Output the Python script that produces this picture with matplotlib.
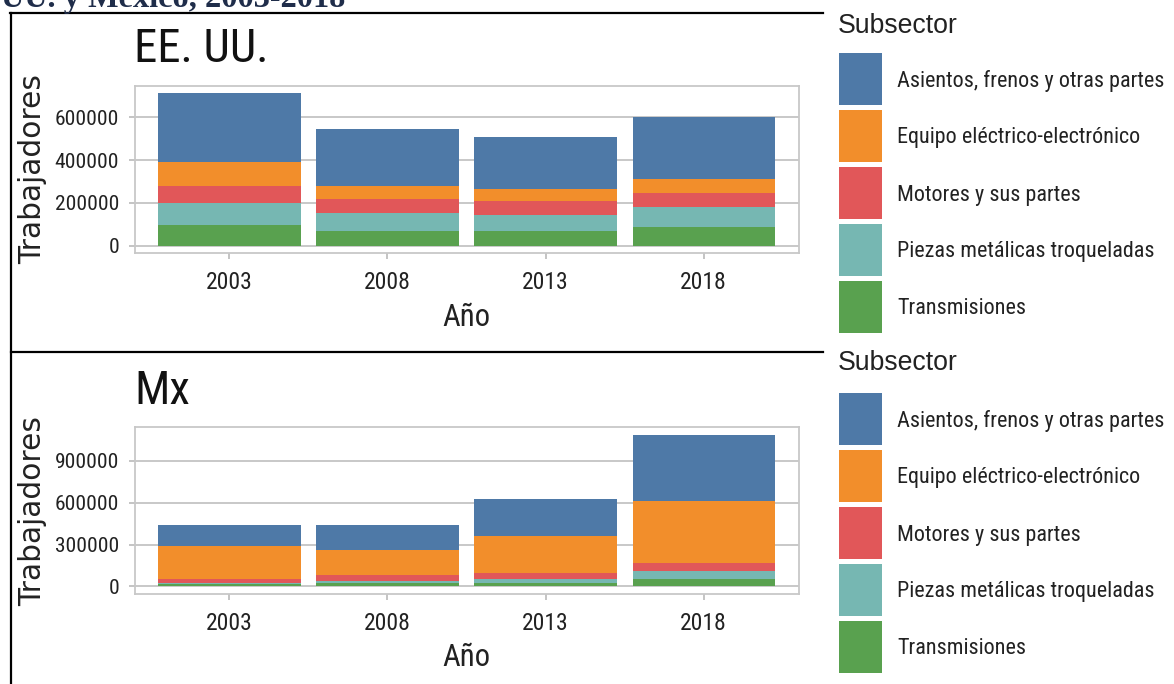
import matplotlib
matplotlib.use("Agg")
import matplotlib.pyplot as plt
import numpy as np
from matplotlib import font_manager
from matplotlib.font_manager import FontProperties
from matplotlib.lines import Line2D
from matplotlib.patches import Rectangle
from matplotlib.textpath import TextPath

# Data (workers per subsector)
years = ["2003", "2008", "2013", "2018"]
subsectors = ["Asientos, frenos y otras partes", "Equipo eléctrico-electrónico",
              "Motores y sus partes", "Piezas metálicas troqueladas", "Transmisiones"]
colors = ["#4e79a7", "#f28e2b", "#e15759", "#76b7b2", "#59a14f"]

us_asientos = [320000, 267000, 245500, 293000]
us_equipo = [112000, 63000, 56500, 65000]
us_motores = [82000, 66000, 65000, 66000]
us_piezas = [101000, 82000, 73000, 92000]
us_transmisiones = [97000, 69000, 69000, 87000]

mx_asientos = [149000, 177400, 264000, 472000]
mx_equipo = [238000, 184600, 267500, 450000]
mx_motores = [28000, 40000, 40000, 56500]
mx_piezas = [8000, 12000, 28600, 54000]
mx_transmisiones = [18000, 28000, 26000, 54600]

us_ticks = [0, 200000, 400000, 600000]
mx_ticks = [0, 300000, 600000, 900000]


# look for a condensed sans face, else plain Liberation Sans
def pick_narrow():
    fl = font_manager.fontManager.ttflist
    plain = [f for f in fl if f.style == "normal" and f.weight in (400, "normal", "regular")]
    for key in ("Liberation Sans Narrow", "Arial Narrow", "Roboto Condensed", "Open Sans Condensed"):
        for f in plain:
            if f.name == key:
                return FontProperties(fname=f.fname)
    for f in plain:
        if "Narrow" in f.name or "Condensed" in f.name or f.stretch in ("condensed", "semi-condensed"):
            return FontProperties(fname=f.fname)
    return FontProperties(family="Liberation Sans")


narrow = pick_narrow()
wide = FontProperties(family="DejaVu Sans")
regular = FontProperties(family="Liberation Sans")


def fit(text, target_px, fp):
    # font size (pt) that makes text target_px wide at dpi 100
    w10 = TextPath((0, 0), text, size=10, prop=fp).get_extents().width
    return target_px * 0.72 * 10 / w10


def fp_size(fp, size):
    p = fp.copy()
    p.set_size(size)
    return p


W, H = 1174, 684
fig = plt.figure(figsize=(W / 100, H / 100), dpi=100)
fig.patch.set_facecolor("white")

ytick_size = fit("600000", 61, narrow)
xtick_size = fit("2003", 44, narrow)
xlab_size = fit("Año", 46, narrow)
title_size = fit("EE. UU.", 127, narrow)
ylab_size = fit("Trabajadores", 188, wide)
leg_size = fit(subsectors[0], 266, narrow)
legtitle_size = fit("Subsector", 118, regular)


def box(x0, y0, x1, y1):
    return [x0 / W, 1 - y1 / H, (x1 - x0) / W, (y1 - y0) / H]


def fline(x0, y0, x1, y1):
    fig.add_artist(Line2D([x0 / W, x1 / W], [1 - y0 / H, 1 - y1 / H],
                          transform=fig.transFigure, color="black", lw=1.6))


def draw_panel(ax, stacks, title, ticks):
    # stacks: bottom-to-top order
    x = np.arange(len(years))
    bottom = np.zeros(len(years))
    for vals, col in stacks:
        ax.bar(x, vals, width=0.9, bottom=bottom, color=col, edgecolor="none", zorder=2)
        bottom = bottom + np.array(vals)
    ymax = bottom.max()
    ax.set_ylim(-0.05 * ymax, 1.05 * ymax)
    ax.set_xlim(-0.6, len(years) - 0.4)
    ax.set_xticks(x)
    ax.set_xticklabels(years, fontproperties=fp_size(narrow, xtick_size))
    ax.set_yticks(ticks)
    ax.set_yticklabels([str(t) for t in ticks], fontproperties=fp_size(narrow, ytick_size))
    ax.yaxis.grid(True, color="#c4c4c4", lw=1.3, zorder=0)
    ax.set_axisbelow(True)
    for s in ax.spines.values():
        s.set_color("#c8c8c8")
        s.set_linewidth(1.3)
    ax.tick_params(axis="both", color="#b4b4b4", length=4, width=1.1, labelcolor="#222222")
    ax.tick_params(axis="y", pad=7)
    ax.tick_params(axis="x", pad=9)
    ax.set_title(title, loc="left", fontproperties=fp_size(narrow, title_size), pad=17, color="#111111")
    ax.set_xlabel("Año", fontproperties=fp_size(narrow, xlab_size), labelpad=6, color="#222222")
    ax.set_ylabel("Trabajadores", fontproperties=fp_size(wide, ylab_size), color="#222222")
    # right edge of the rotated label sits about 47 px from the figure's left
    ax.yaxis.set_label_coords((47 - 134.5) / 664, 0.5)


def draw_legend(title_baseline, first_top):
    fig.text(838 / W, 1 - title_baseline / H, "Subsector",
             fontproperties=fp_size(regular, legtitle_size),
             va="baseline", ha="left", color="#222222")
    for i, (lab, col) in enumerate(zip(subsectors, colors)):
        top = first_top + i * 57
        fig.add_artist(Rectangle((839 / W, 1 - (top + 52) / H), 43 / W, 52 / H,
                                 transform=fig.transFigure, facecolor=col, edgecolor="none"))
        fig.text(897 / W, 1 - (top + 28) / H, lab, fontproperties=fp_size(narrow, leg_size),
                 va="center", ha="left", color="#222222")


ax_us = fig.add_axes(box(134.5, 85.7, 798.5, 253.3))
draw_panel(ax_us, [(us_transmisiones, colors[4]), (us_piezas, colors[3]),
                   (us_motores, colors[2]), (us_equipo, colors[1]),
                   (us_asientos, colors[0])], "EE. UU.", us_ticks)

ax_mx = fig.add_axes(box(134.5, 427.3, 798.5, 594))
draw_panel(ax_mx, [(mx_transmisiones, colors[4]), (mx_piezas, colors[3]),
                   (mx_motores, colors[2]), (mx_equipo, colors[1]),
                   (mx_asientos, colors[0])], "Mx", mx_ticks)

draw_legend(33, 53)
draw_legend(370, 393)

# frame lines of the surrounding document table
fline(10, 13, 823, 13)
fline(11, 13, 11, 684)
fline(11, 352, 823, 352)

# cut-off caption from the source document
fig.text(1 / W, 1 - 7 / H, "UU. y México, 2003-2018", fontsize=23.3, fontweight="bold",
         family="Liberation Serif", color="#1f2d4a", va="baseline", ha="left")

fig.savefig("out.png", dpi=100)
